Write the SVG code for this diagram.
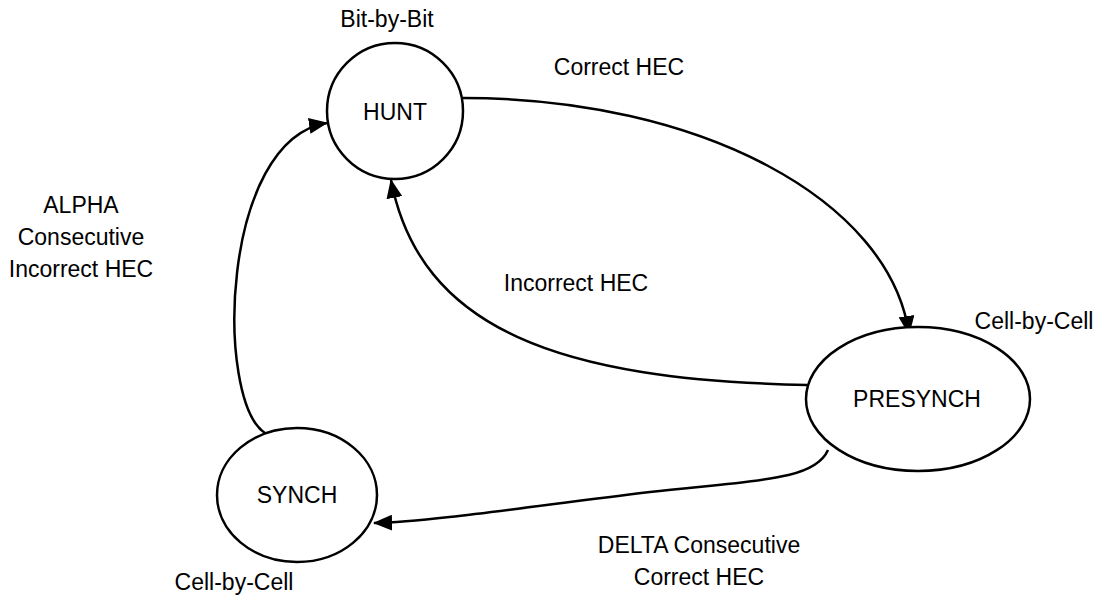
<svg xmlns="http://www.w3.org/2000/svg" width="1101" height="598" viewBox="0 0 1101 598">
<style>
  .node { fill: #fff; stroke: #000; stroke-width: 2.5; }
  .edge { fill: none; stroke: #000; stroke-width: 2.5; }
  text { font-family: "Liberation Sans", Arial, sans-serif; font-size: 23px; fill: #000; text-anchor: middle; }
</style>
<defs>
  <marker id="arr" markerUnits="userSpaceOnUse" markerWidth="19" markerHeight="16" refX="18" refY="8" orient="auto">
    <path d="M0,0 L19,8 L0,16 Z" fill="#000"/>
  </marker>
</defs>
<rect width="1101" height="598" fill="#fff"/>
<g id="connectors">
  <path class="edge" d="M463,98 C700,98 890,200 909,334" marker-end="url(#arr)"/>
  <path class="edge" d="M807,385 C560,380 420,330 391,180" marker-end="url(#arr)"/>
  <path class="edge" d="M828,450 C815,480 760,480 650,492 C540,505 430,522 374,523" marker-end="url(#arr)"/>
  <path class="edge" d="M265,433 C215,400 220,140 327,123" marker-end="url(#arr)"/>
</g>
<g id="hunt">
  <ellipse class="node" cx="395" cy="111" rx="68" ry="68"/>
  <text x="395" y="120">HUNT</text>
</g>
<g id="presynch">
  <ellipse class="node" cx="918" cy="399" rx="112" ry="72"/>
  <text x="917" y="407">PRESYNCH</text>
</g>
<g id="synch">
  <ellipse class="node" cx="297" cy="495" rx="80" ry="67"/>
  <text x="297" y="503">SYNCH</text>
</g>
<g id="labels">
  <text x="387" y="27">Bit-by-Bit</text>
  <text x="619" y="75">Correct HEC</text>
  <text x="576" y="291">Incorrect HEC</text>
  <text x="1034" y="329">Cell-by-Cell</text>
  <text x="234" y="590">Cell-by-Cell</text>
  <text x="699" y="553">DELTA Consecutive</text>
  <text x="699" y="585">Correct HEC</text>
  <text x="81" y="213">ALPHA</text>
  <text x="81" y="245">Consecutive</text>
  <text x="81" y="277">Incorrect HEC</text>
</g>
</svg>
